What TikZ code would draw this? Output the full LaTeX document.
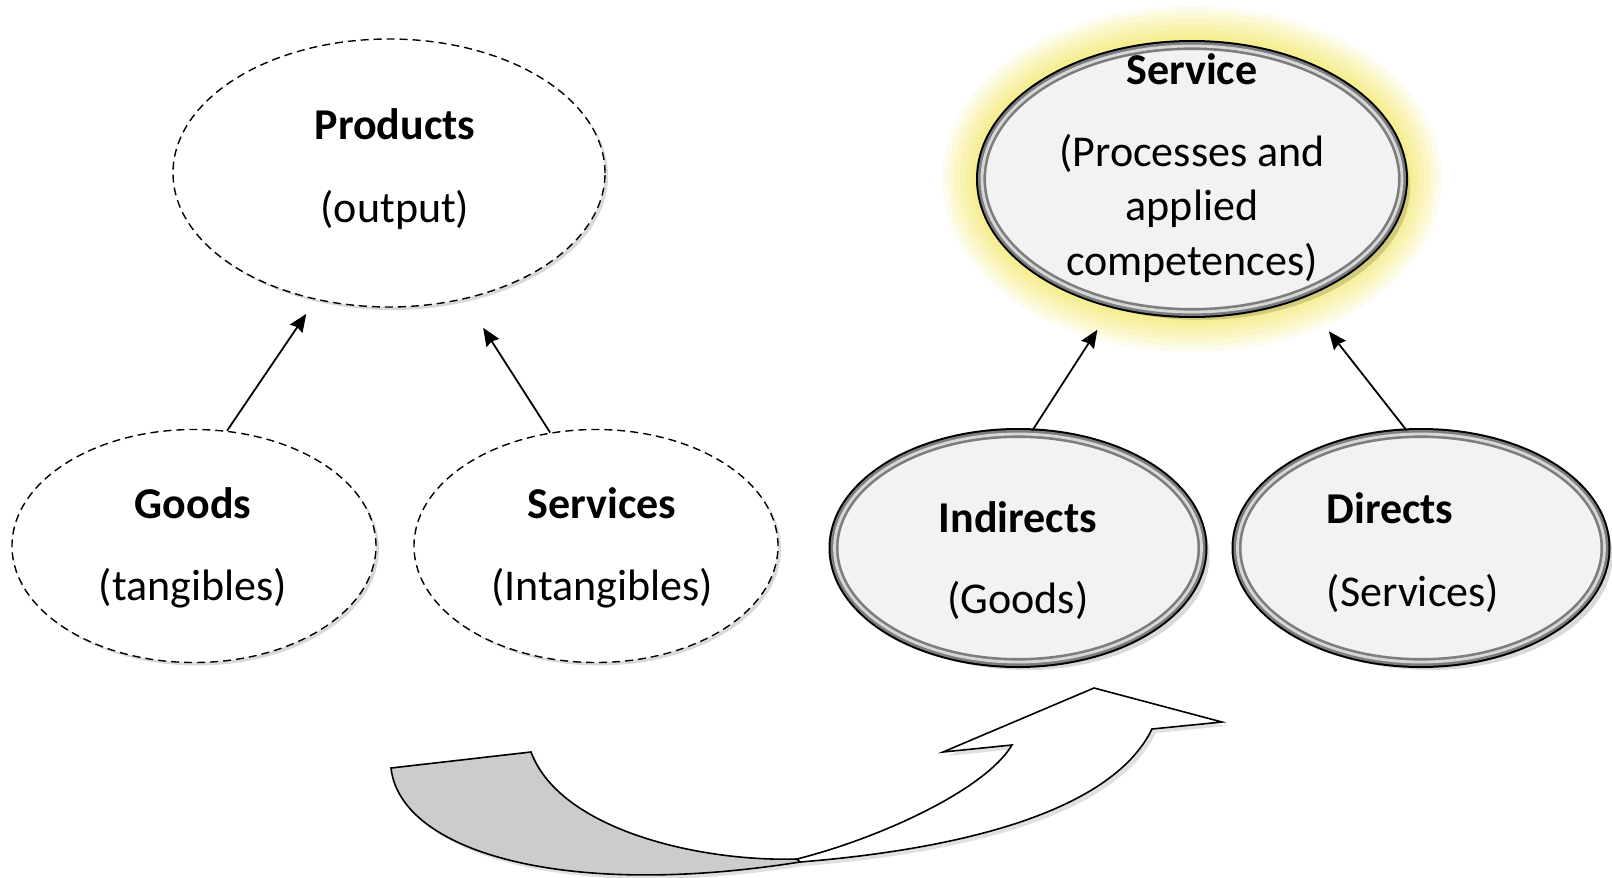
\documentclass[tikz,border=0pt]{standalone}
\usepackage{fontspec}
\setmainfont{Carlito}
\usepackage{tikz}
\usetikzlibrary{arrows.meta,shapes.geometric,shadows}

\definecolor{glowyellow}{RGB}{240,226,70}
\definecolor{ringgray}{RGB}{125,125,125}
\definecolor{ringlight}{RGB}{215,215,215}
\definecolor{ringfill}{RGB}{242,242,242}

\begin{document}
\begin{tikzpicture}[x=0.5pt,y=-0.5pt,
    dash node/.style={ellipse,draw,dash pattern=on 4pt off 2.5pt,line width=0.7pt,
      fill=white,inner sep=0pt,
      drop shadow={shadow xshift=1.5pt,shadow yshift=-1.5pt,fill=black,opacity=0.15}},
    ring node/.style={ellipse,inner sep=0pt,
      drop shadow={shadow xshift=4pt,shadow yshift=-4pt,fill=black,opacity=0.15},
      preaction={draw=black,line width=6pt},
      fill=ringfill,draw=ringgray,line width=4pt,
      postaction={draw=ringlight,line width=1.4pt}},
    glow/.style={preaction={draw=glowyellow,line width=40pt,draw opacity=0.1},
      preaction={draw=glowyellow,line width=34pt,draw opacity=0.13},
      preaction={draw=glowyellow,line width=28pt,draw opacity=0.14},
      preaction={draw=glowyellow,line width=22pt,draw opacity=0.14},
      preaction={draw=glowyellow,line width=16pt,draw opacity=0.14},
      preaction={draw=glowyellow,line width=11pt,draw opacity=0.14}},
    main text/.style={font=\fontsize{22}{26.4}\selectfont,align=center},
    link/.style={-{Stealth[length=9pt,width=7.5pt,inset=1pt]},line width=0.9pt},
    bend back/.style={draw=black,line width=0.8pt,fill=gray!40,
      drop shadow={shadow xshift=2pt,shadow yshift=-2pt,fill=black,opacity=0.12}},
    bend front/.style={draw=black,line width=0.8pt,fill=white,
      drop shadow={shadow xshift=2pt,shadow yshift=-2pt,fill=black,opacity=0.12}}]
  \useasboundingbox (0,0) rectangle (1612,878);

  %old view%
  \node[dash node,minimum width=216pt,minimum height=134pt] (products) at (389,173) {};
  \node[dash node,minimum width=182pt,minimum height=116.5pt] (goods) at (194,546) {};
  \node[dash node,minimum width=182pt,minimum height=116.5pt] (services) at (596,546) {};

  \node[main text] (products text) at (395,169) {\textbf{Products}\\[15pt](output)};
  \node[main text] (goods text) at (193,548) {\textbf{Goods}\\[14.6pt](tangibles)};
  \node[main text] (services text) at (602,548) {\textbf{Services}\\[14.6pt](Intangibles)};

  %new view%
  \node[glow,ring node,minimum width=210pt,minimum height=133pt] (service) at (1192,179) {};
  \node[ring node,minimum width=183.5pt,minimum height=114pt] (indirects) at (1018,548) {};
  \node[ring node,minimum width=183.5pt,minimum height=114pt] (directs) at (1421,548) {};

  \node[main text] (service text) at (1192,168)
    {\textbf{Service}\\[14.6pt](Processes and\\[0.6pt]applied\\[1pt]competences)};
  \node[main text] (indirects text) at (1018,561) {\textbf{Indirects}\\[14pt](Goods)};
  \node[main text] (directs text) at (1413,553) {\textbf{Directs}\hspace*{23pt}\\[15pt](Services)};

  \draw[link,shorten >=8.5pt] (goods.74) -- (products.-120);
  \draw[link,shorten >=17pt] (services.112) -- (products.-59);
  \draw[link,shorten >=14pt] (indirects.83) -- (service.-122);
  \draw[link,shorten >=22pt] (directs.97) -- (service.-47);

  %bent arrow%
  \path[bend back] (391,768) -- (531,752)
    .. controls (560,830) and (700,862) .. (797,859) -- (800,862)
    .. controls (560,900) and (400,850) .. (391,768) -- cycle;
  \path[bend front] (797,859) .. controls (880,838) and (985,790) .. (1012,745)
    -- (943,752) -- (1094,688) -- (1222,722) -- (1152,729)
    .. controls (1110,815) and (950,850) .. (800,862) -- cycle;
\end{tikzpicture}
\end{document}
